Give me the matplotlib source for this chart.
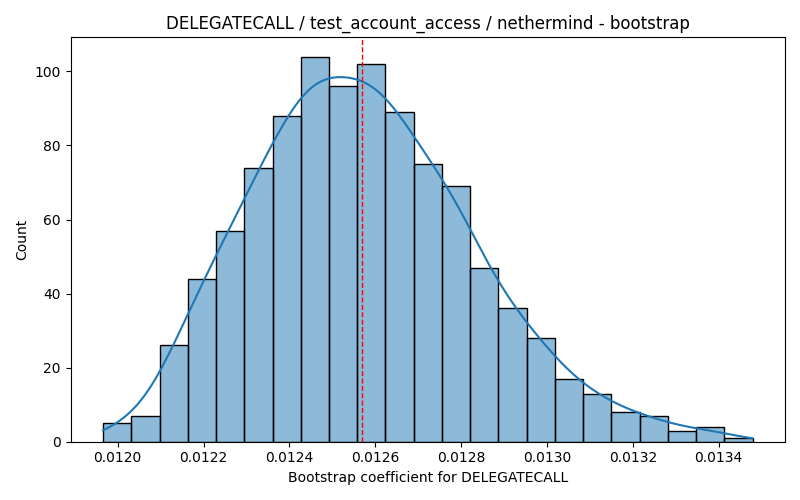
import numpy as np
import matplotlib
matplotlib.use("Agg")
import matplotlib.pyplot as plt
from matplotlib.colors import to_rgba

# histogram (23 equal bins, 1000 bootstrap samples)
bin_start = 0.011966
bin_end = 0.013479
counts = [5, 7, 26, 44, 57, 74, 88, 104, 96, 102, 89, 75, 69,
          47, 36, 28, 17, 13, 8, 7, 3, 4, 1]
point_estimate = 0.012569

title = "DELEGATECALL / test_account_access / nethermind - bootstrap"
xlabel = "Bootstrap coefficient for DELEGATECALL"


def main():
    counts_arr = np.array(counts, dtype=float)
    edges = np.linspace(bin_start, bin_end, len(counts) + 1)
    width = edges[1] - edges[0]
    centers = (edges[:-1] + edges[1:]) / 2

    fig, ax = plt.subplots(figsize=(8, 5), dpi=100)

    ax.bar(edges[:-1], counts_arr, width=width, align="edge",
           facecolor=to_rgba("C0", 0.5), edgecolor="black", linewidth=1)

    # gaussian kde from the binned data (scott bandwidth, n = total count)
    n = counts_arr.sum()
    mean = np.sum(centers * counts_arr) / n
    var = np.sum(counts_arr * (centers - mean) ** 2) / n
    bw = np.sqrt(var) * n ** (-1 / 5)
    grid = np.linspace(edges[0], edges[-1], 200)
    dens = np.zeros_like(grid)
    for c, w in zip(centers, counts_arr):
        dens += w * np.exp(-0.5 * ((grid - c) / bw) ** 2)
    dens /= n * bw * np.sqrt(2 * np.pi)
    ax.plot(grid, dens * n * width, color="C0", linewidth=1.5)

    ax.axvline(point_estimate, color="red", linestyle="--", linewidth=1)

    ax.set_title(title)
    ax.set_xlabel(xlabel)
    ax.set_ylabel("Count")

    plt.tight_layout()
    plt.savefig("out.png", dpi=100)


if __name__ == "__main__":
    main()
